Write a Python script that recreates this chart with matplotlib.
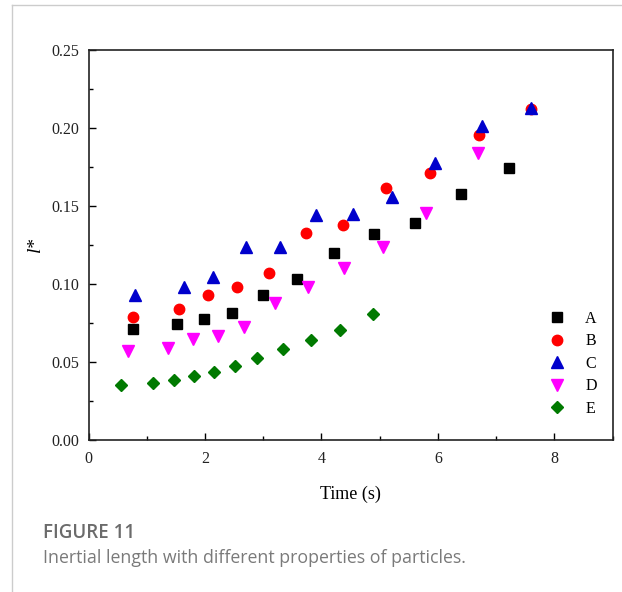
#!/usr/bin/env python3
"""
Inertial length l* against time for five kinds of particles (A-E).
"""

import matplotlib
matplotlib.use("Agg")
import matplotlib.pyplot as plt
from matplotlib.lines import Line2D
from matplotlib.ticker import MultipleLocator

# data
a_t = [0.76, 1.52, 1.99, 2.46, 3.00, 3.58, 4.22, 4.90, 5.61, 6.39, 7.22]
a_l = [0.0712, 0.0744, 0.0772, 0.0813, 0.0928, 0.1034, 0.1201, 0.1321, 0.1392, 0.1578, 0.1746]

b_t = [0.77, 1.56, 2.05, 2.55, 3.10, 3.73, 4.37, 5.11, 5.86, 6.70, 7.59]
b_l = [0.0787, 0.0840, 0.0927, 0.0979, 0.1069, 0.1325, 0.1380, 0.1614, 0.1712, 0.1953, 0.2121]

c_t = [0.80, 1.64, 2.14, 2.70, 3.28, 3.91, 4.54, 5.21, 5.95, 6.75, 7.59]
c_l = [0.0926, 0.0977, 0.1043, 0.1237, 0.1237, 0.1445, 0.1449, 0.1558, 0.1778, 0.2011, 0.2128]

d_t = [0.68, 1.37, 1.79, 2.22, 2.67, 3.20, 3.77, 4.39, 5.06, 5.80, 6.69]
d_l = [0.0569, 0.0588, 0.0647, 0.0665, 0.0724, 0.0877, 0.0979, 0.1101, 0.1234, 0.1458, 0.1839]

e_t = [0.56, 1.11, 1.46, 1.81, 2.16, 2.51, 2.89, 3.34, 3.82, 4.31, 4.89]
e_l = [0.0349, 0.0365, 0.0381, 0.0406, 0.0432, 0.0472, 0.0522, 0.0580, 0.0639, 0.0703, 0.0804]

labels = ["A", "B", "C", "D", "E"]
caption_title = "FIGURE 11"
caption_text = "Inertial length with different properties of particles."

serif = "Liberation Serif"

fig = plt.figure(figsize=(6.22, 5.92), dpi=100)
ax = fig.add_axes([0.1423, 0.2576, 0.8428, 0.6574])

# one scatter per particle type
ax.plot(a_t, a_l, "s", color="black", markersize=6.5, linestyle="none", label=labels[0])
ax.plot(b_t, b_l, "o", color="red", markersize=7.5, linestyle="none", label=labels[1])
ax.plot(c_t, c_l, "^", color="#0000cc", markersize=8, linestyle="none", label=labels[2])
ax.plot(d_t, d_l, "v", color="#ff00ff", markersize=8, linestyle="none", label=labels[3])
ax.plot(e_t, e_l, "D", color="#007a00", markersize=6.5, linestyle="none", label=labels[4])

ax.set_xlim(0, 9)
ax.set_ylim(0, 0.25)
ax.xaxis.set_major_locator(MultipleLocator(2))
ax.xaxis.set_minor_locator(MultipleLocator(1))
ax.yaxis.set_major_locator(MultipleLocator(0.05))
ax.yaxis.set_minor_locator(MultipleLocator(0.025))
ax.yaxis.set_major_formatter(lambda v, p: f"{v:.2f}")

ax.tick_params(which="both", direction="in", top=False, right=False,
               labelsize=11.5, labelcolor="#222222", width=1)
ax.tick_params(which="major", length=5)
ax.tick_params(axis="x", which="major", pad=8)
ax.tick_params(axis="y", which="major", pad=7)
ax.tick_params(which="minor", length=3)
for lab in ax.get_xticklabels() + ax.get_yticklabels():
    lab.set_fontfamily(serif)
for s in ax.spines.values():
    s.set_linewidth(1.2)
    s.set_color("#222222")

ax.set_xlabel("Time (s)", fontfamily=serif, fontsize=13, labelpad=14)
ax.set_ylabel("l*", fontfamily=serif, fontstyle="italic", fontsize=14, labelpad=5)

leg = ax.legend(loc="lower right", bbox_to_anchor=(0.997, 0.022), frameon=False,
                prop={"family": serif, "size": 11.5}, labelspacing=0.4,
                handletextpad=1.3, handlelength=1.0)

# page frame lines and caption
fig.add_artist(Line2D([12 / 622, 1], [1 - 5 / 592, 1 - 5 / 592],
                      color="#cccccc", linewidth=1))
fig.add_artist(Line2D([12 / 622, 12 / 622], [0, 1 - 5 / 592],
                      color="#cccccc", linewidth=1))
fig.text(43 / 622, 1 - 533 / 592, caption_title, fontfamily="Open Sans",
         fontweight="semibold", fontsize=13.5, color="#6b6b6b", va="center")
fig.text(43 / 622, 1 - 558 / 592, caption_text, fontfamily="Open Sans",
         fontsize=12.8, color="#7a7a7a", va="center")

fig.savefig("out.png", dpi=100)
